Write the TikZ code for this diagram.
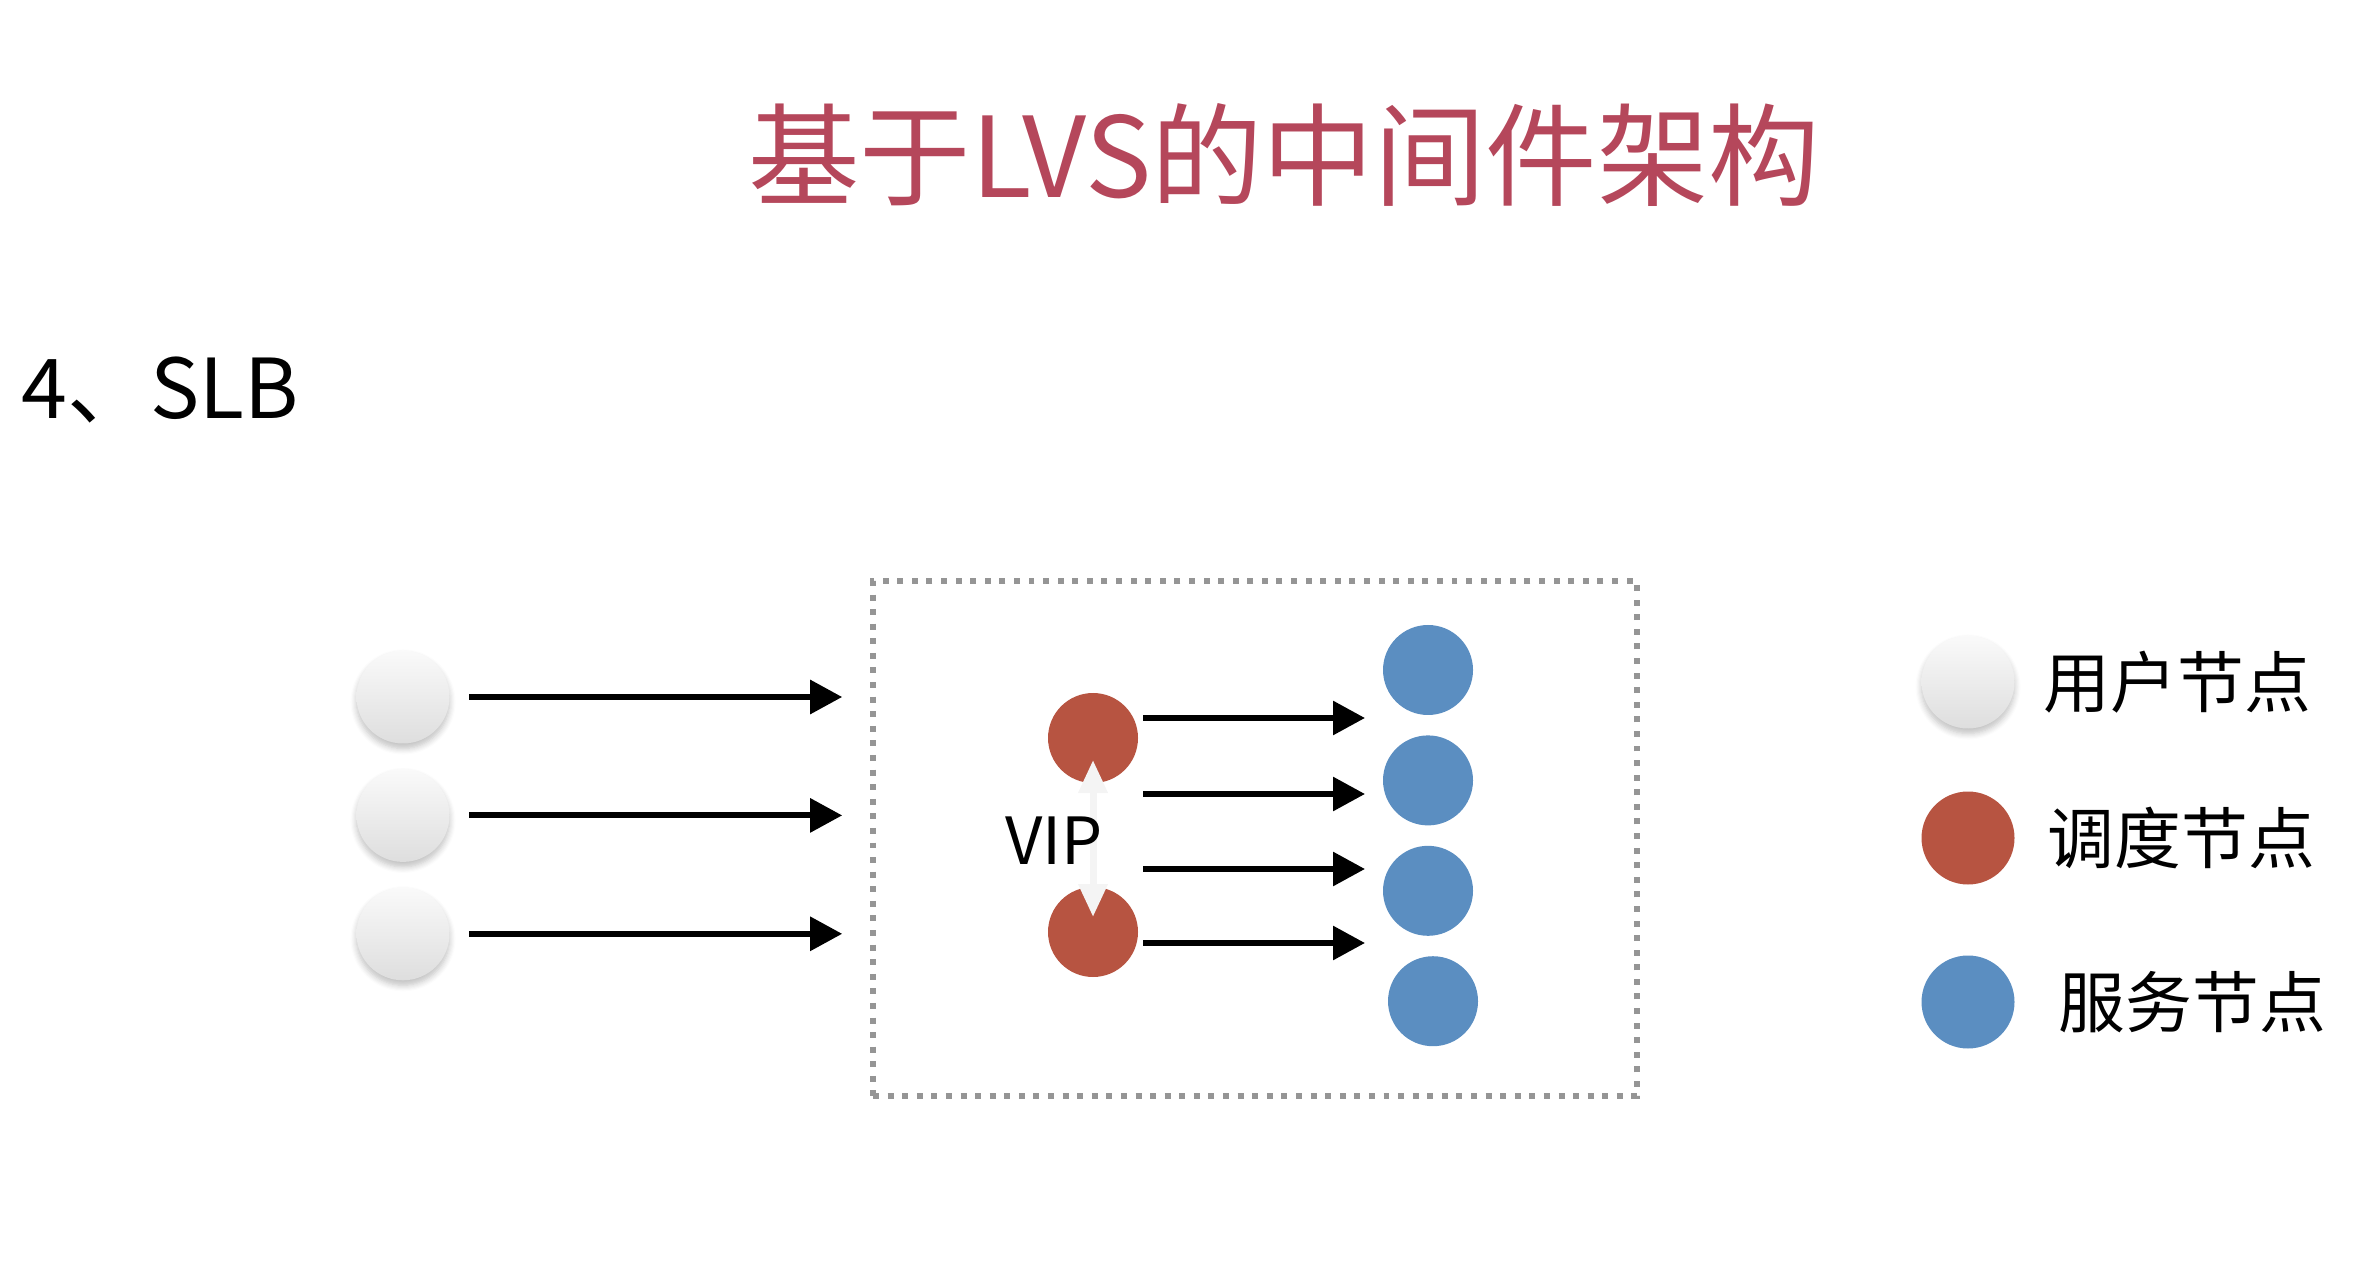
\documentclass[tikz,border=0pt]{standalone}
\usepackage{fontspec}
\newfontfamily\cjk{Noto Sans CJK SC}
\usepackage{xcolor}
\definecolor{ct}{HTML}{B5475B}
\definecolor{cr}{HTML}{B75441}
\definecolor{cb}{HTML}{5B8EC1}
\definecolor{cd}{HTML}{959595}
\usepackage{tikz}
\usetikzlibrary{arrows.meta,positioning,calc,shadows.blur}

\begin{document}
\begin{tikzpicture}[
  >={Triangle[length=3.2mm, width=3.3mm]},
  user/.style={circle, minimum size=9.3mm, inner sep=0pt, top color=gray!4, bottom color=gray!26,
    blur shadow={shadow xshift=0pt, shadow yshift=-0.5mm, shadow opacity=25, shadow blur steps=6}},
  disp/.style={circle, fill=cr, minimum size=9mm, inner sep=0pt},
  srv/.style={circle, fill=cb, minimum size=9mm, inner sep=0pt},
  flow/.style={->, line width=1.7pt},
  vipdir/.style={{Triangle[length=3.3mm, width=2.8mm]}-{Triangle[length=3.3mm, width=2.8mm]}, line width=2pt, draw=gray!9},
  lbl/.style={font=\cjk\fontsize{19}{19}\selectfont, inner sep=0pt},
]
  \useasboundingbox (0,0) rectangle (23.68,-12.74);

  % headings
  \node[font=\cjk\fontsize{31.7}{31.7}\selectfont, text=ct] (title) at (12.84,-1.55) {基于LVS的中间件架构};
  \node[font=\cjk\fontsize{23.5}{23.5}\selectfont, anchor=west, inner sep=0pt] (sec) at (0.21,-3.9) {4、SLB};

  % users
  \node[user] (u1) at (4.03,-6.97) {};
  \node[user, below=2.4mm of u1] (u2) {};
  \node[user, below=2.4mm of u2] (u3) {};
  \foreach \i in {1,2,3} {
    \coordinate (in\i) at ([xshift=39.2mm]u\i.east);
    \draw[flow] ([xshift=1.9mm]u\i.east) -- (in\i);
  }

  % LVS cluster
  \node[draw=cd, line width=1.7pt, dash pattern=on 1.7pt off 2.45pt,
    minimum width=7.64cm, minimum height=5.15cm] (lvs) at (12.55,-8.385) {};
  \node[disp] (d1) at (10.93,-7.38) {};
  \node[disp] (d2) at (10.93,-9.32) {};
  \draw[vipdir, shorten <=2.2mm, shorten >=1.5mm] (d1.center) -- (d2.center);
  \node[font=\cjk\fontsize{18.5}{18.5}\selectfont, inner sep=0pt] (vip) at (10.54,-8.41) {VIP};

  \node[srv] (s1) at (14.28,-6.70) {};
  \node[srv, below=1.9mm of s1] (s2) {};
  \node[srv, below=1.9mm of s2] (s3) {};
  \node[srv, below=1.9mm of s3, xshift=0.5mm] (s4) {};
  \foreach \y [count=\i] in {7.18,7.94,8.69,9.43} {
    \coordinate (p\i) at (11.43,-\y);
    \coordinate (q\i) at (13.65,-\y);
    \draw[flow] (p\i) -- (q\i);
  }

  % legend
  \node[user] (lu) at (19.68,-6.82) {};
  \node[disp, minimum size=9.3mm] (ld) at (19.68,-8.38) {};
  \node[srv, minimum size=9.3mm] (ls) at (19.68,-10.02) {};
  \node[lbl, right=2.8mm of lu] (tu) {用户节点};
  \node[lbl, right=3.2mm of ld] (td) {调度节点};
  \node[lbl, right=4.3mm of ls] (ts) {服务节点};
\end{tikzpicture}
\end{document}
